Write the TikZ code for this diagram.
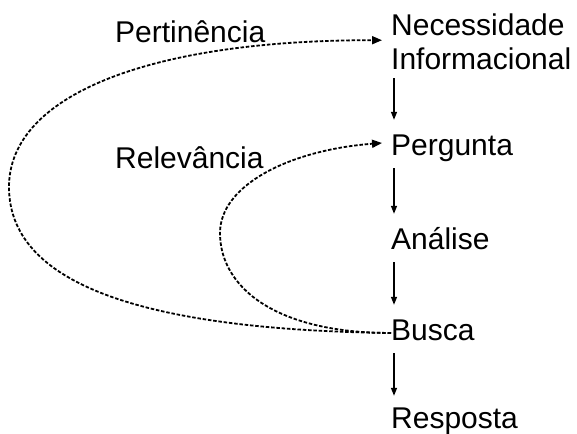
\documentclass[tikz,border=0pt]{standalone}
\usepackage{fontspec}
\setmainfont{Liberation Sans}
\usetikzlibrary{arrows.meta,calc}
\begin{document}
\begin{tikzpicture}[x=1pt,y=-1pt,
  lbl/.style={font=\fontsize{30}{34}\selectfont, inner sep=0pt, anchor=base west, text height=21pt, text depth=7pt},
  multi/.style={font=\fontsize{30}{34}\selectfont, inner sep=0pt, anchor=north west, align=left},
  varrow/.style={line width=1.4pt, -{Triangle[length=8pt,width=6pt]}},
  darrow/.style={line width=1.8pt, dash pattern=on 3.5pt off 1.8pt, -{Triangle[length=10pt,width=8pt]}}]
\useasboundingbox (0,0) rectangle (577,433);
\node[multi] (nec) at (391,14) {Necessidade\\Informacional};
\node[lbl] (perg) at (391,155) {Pergunta};
\node[lbl] (anal) at (391,249) {Análise};
\node[lbl] (busca) at (391,340) {Busca};
\node[lbl] (resp) at (391,428) {Resposta};
\node[lbl] (pert) at (115,43) {Pertinência};
\node[lbl] (relev) at (115,168) {Relevância};
\draw[varrow] ([xshift=3pt,yshift=-8pt]nec.south west) -- ([xshift=3pt,yshift=14pt]perg.north west);
\draw[varrow] ([xshift=3pt,yshift=-6pt]perg.south west) -- ([xshift=3pt,yshift=14pt]anal.north west);
\draw[varrow] ([xshift=3pt,yshift=-6pt]anal.south west) -- ([xshift=3pt,yshift=14pt]busca.north west);
\draw[varrow] ([xshift=3pt,yshift=-6pt]busca.south west) -- ([xshift=3pt,yshift=11pt]resp.north west);
\coordinate (outl) at (9,187);
\coordinate (inl) at (220,233);
\draw[darrow] (busca.west) .. controls (160,330) and (9,290) .. (outl)
  .. controls (9,95) and (150,40) .. ([xshift=-9pt,yshift=2pt]nec.west);
\draw[darrow] (busca.west) .. controls (275,333) and (220,287) .. (inl)
  .. controls (220,185) and (290,150) .. ([xshift=-9pt,yshift=5pt]perg.west);
\end{tikzpicture}
\end{document}
